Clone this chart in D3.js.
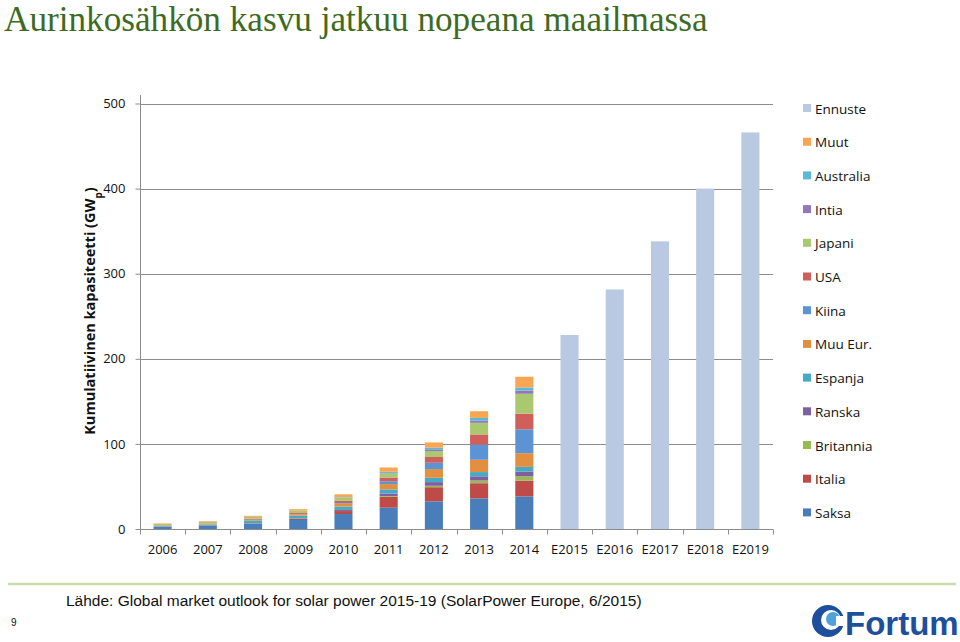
<!DOCTYPE html>
<html>
<head>
<meta charset="utf-8">
<script src="https://cdn.jsdelivr.net/npm/d3@7/dist/d3.min.js"></script>
<style>
  html, body { margin: 0; padding: 0; background: #fff; }
  svg { display: block; }
</style>
</head>
<body>
<svg id="chart" width="960" height="642"></svg>
<script>
// ---------- DATA ----------
const categories = ["2006","2007","2008","2009","2010","2011","2012","2013","2014","E2015","E2016","E2017","E2018","E2019"];
const seriesNames = ["Saksa","Italia","Britannia","Ranska","Espanja","Muu Eur.","Kiina","USA","Japani","Intia","Australia","Muut","Ennuste"];
const saksa     = [2.9, 4.2, 6.1, 10.6, 17.6, 25.0, 32.5, 36.0, 38.3, 0, 0, 0, 0, 0];
const italia    = [0.05, 0.1, 0.5, 1.2, 3.5, 12.8, 16.6, 17.8, 18.5, 0, 0, 0, 0, 0];
const britannia = [0.01, 0.02, 0.02, 0.03, 0.1, 1.0, 1.7, 3.2, 5.2, 0, 0, 0, 0, 0];
const ranska    = [0.01, 0.05, 0.1, 0.3, 1.2, 2.9, 4.3, 4.9, 5.4, 0, 0, 0, 0, 0];
const espanja   = [0.15, 0.7, 3.4, 3.5, 3.9, 4.9, 5.1, 5.0, 5.6, 0, 0, 0, 0, 0];
const muuEur    = [0.3, 0.4, 0.7, 1.2, 3.5, 6.2, 10.2, 14.5, 16.1, 0, 0, 0, 0, 0];
const kiina     = [0.1, 0.1, 0.1, 0.3, 0.8, 3.3, 7.4, 17.8, 28.0, 0, 0, 0, 0, 0];
const usa       = [0.6, 0.8, 1.2, 1.6, 2.5, 4.4, 6.8, 11.9, 18.4, 0, 0, 0, 0, 0];
const japani    = [1.7, 1.9, 2.1, 2.6, 3.6, 4.9, 7.0, 13.7, 23.4, 0, 0, 0, 0, 0];
const intia     = [0.0, 0.0, 0.0, 0.03, 0.07, 0.5, 2.0, 2.6, 3.8, 0, 0, 0, 0, 0];
const australia = [0.05, 0.07, 0.1, 0.2, 0.6, 1.4, 2.1, 3.2, 3.6, 0, 0, 0, 0, 0];
const muut      = [0.6, 0.8, 1.2, 1.8, 3.4, 5.0, 6.0, 7.8, 12.6, 0, 0, 0, 0, 0];
const ennuste   = [0, 0, 0, 0, 0, 0, 0, 0, 0, 228, 281.5, 338, 400, 466];
const yTicks = [0, 100, 200, 300, 400, 500];

const seriesValues = [saksa, italia, britannia, ranska, espanja, muuEur, kiina, usa, japani, intia, australia, muut, ennuste];
const seriesColors = ["#4a7ebb","#be4b48","#98b954","#7d60a0","#46aac5","#e2903f","#5b93d5","#d05f5b","#aac86f","#9079b6","#5ab9d6","#f9a552","#b9c9e2"];

const titleText = "Aurinkosähkön kasvu jatkuu nopeana maailmassa";
const sourceText = "Lähde: Global market outlook for solar power 2015-19 (SolarPower Europe, 6/2015)";

// ---------- BUILD ----------
const svg = d3.select("#chart");
const rows = categories.map((c, i) => {
  const r = { cat: c };
  seriesNames.forEach((s, k) => { r[s] = seriesValues[k][i]; });
  return r;
});
const color = d3.scaleOrdinal().domain(seriesNames).range(seriesColors);

const x = d3.scaleBand().domain(categories).range([140, 773]).paddingInner(0.6).paddingOuter(0.3);
const y = d3.scaleLinear().domain([0, 500]).range([529, 103.5]);

// Title
svg.append("text")
  .attr("x", 4).attr("y", 31)
  .attr("font-family", "'Liberation Serif', 'Times New Roman', serif")
  .attr("font-size", 35.2)
  .attr("fill", "#3d6b22")
  .text(titleText);

// Gridlines
svg.append("g").selectAll("line").data(yTicks.filter(d => d > 0)).join("line")
  .attr("x1", 140).attr("x2", 773)
  .attr("y1", d => Math.round(y(d)) + 0.5).attr("y2", d => Math.round(y(d)) + 0.5)
  .attr("stroke", "#8c8c8c").attr("stroke-width", 1);

// Y axis
const yAxis = d3.axisLeft(y).tickValues(yTicks).tickSize(5).tickPadding(10).tickFormat(d3.format("d"));
const gy = svg.append("g").attr("transform", "translate(140.5,0)").call(yAxis);
gy.select(".domain").remove();
gy.append("line").attr("x1", 0).attr("x2", 0).attr("y1", 95).attr("y2", 529).attr("stroke", "#8c8c8c");
gy.selectAll(".tick line").attr("stroke", "#8c8c8c");
gy.selectAll(".tick text")
  .attr("font-family", "'Open Sans', sans-serif").attr("font-size", 13).attr("fill", "#111");

// Bars
const stack = d3.stack().keys(seriesNames);
const stacked = stack(rows);
svg.append("g").selectAll("g").data(stacked).join("g")
  .attr("fill", d => color(d.key))
  .selectAll("rect").data(d => d).join("rect")
  .attr("x", d => x(d.data.cat))
  .attr("width", x.bandwidth())
  .attr("y", d => y(d[1]))
  .attr("height", d => Math.max(0, y(d[0]) - y(d[1])));

// X axis
const gx = svg.append("g").attr("transform", "translate(0,529.5)");
gx.append("line").attr("x1", 140).attr("x2", 773).attr("y1", 0).attr("y2", 0).attr("stroke", "#8c8c8c");
const boundaries = categories.map(c => x(c) - x.step() * x.paddingInner() / 2).concat([773]);
gx.selectAll("line.tk").data(boundaries).join("line").attr("class", "tk")
  .attr("x1", d => Math.round(d) + 0.5).attr("x2", d => Math.round(d) + 0.5)
  .attr("y1", 0).attr("y2", 5).attr("stroke", "#8c8c8c");
gx.selectAll("text").data(categories).join("text")
  .attr("x", d => x(d) + x.bandwidth() / 2)
  .attr("y", 24)
  .attr("text-anchor", "middle")
  .attr("font-family", "'Open Sans', sans-serif").attr("font-size", 13).attr("fill", "#111")
  .text(d => d);

// Y axis title
const yt = svg.append("text")
  .attr("transform", "translate(95,311) rotate(-90)")
  .attr("text-anchor", "middle")
  .attr("font-family", "'Open Sans', sans-serif").attr("font-size", 14.5).attr("font-weight", "bold")
  .attr("fill", "#111");
yt.append("tspan").text("Kumulatiivinen kapasiteetti (GW");
yt.append("tspan").attr("baseline-shift", "sub").attr("font-size", 10).text("p");
yt.append("tspan").text(")");

// Legend
const legendOrder = seriesNames.slice().reverse();
const lg = svg.append("g").selectAll("g").data(legendOrder).join("g")
  .attr("transform", (d, i) => `translate(803, ${108.5 + i * 33.7})`);
lg.append("rect").attr("x", 0).attr("y", -4.5).attr("width", 8).attr("height", 8).attr("fill", d => color(d));
lg.append("text").attr("x", 12).attr("y", 5)
  .attr("font-family", "'Open Sans', sans-serif").attr("font-size", 13.5).attr("fill", "#111")
  .text(d => d);

// Footer line
svg.append("line").attr("x1", 8).attr("x2", 956).attr("y1", 584).attr("y2", 584)
  .attr("stroke", "#c9dcaa").attr("stroke-width", 2.5);

// Source
svg.append("text").attr("x", 66).attr("y", 606)
  .attr("font-family", "'Liberation Sans', Arial, sans-serif").attr("font-size", 15.5).attr("fill", "#111")
  .text(sourceText);

// Page number
svg.append("text").attr("x", 11).attr("y", 626)
  .attr("font-family", "'Liberation Sans', Arial, sans-serif").attr("font-size", 10).attr("fill", "#111")
  .text("9");

// Fortum logo
const logo = svg.append("g").attr("transform", "translate(828,621)");
logo.append("circle").attr("r", 16).attr("fill", "#1e4f9c");
logo.append("circle").attr("cx", 3).attr("cy", -1).attr("r", 10).attr("fill", "#ffffff");
logo.append("circle").attr("cx", 5).attr("cy", -2).attr("r", 7).attr("fill", "#4fa3dc");
logo.append("rect").attr("x", 8).attr("y", -5).attr("width", 10).attr("height", 10).attr("fill", "#ffffff");
logo.append("text").attr("x", 17).attr("y", 14)
  .attr("font-family", "'Liberation Sans', Arial, sans-serif").attr("font-size", 33).attr("font-weight", "bold")
  .attr("fill", "#1e4f9c")
  .text("Fortum");
</script>
</body>
</html>
